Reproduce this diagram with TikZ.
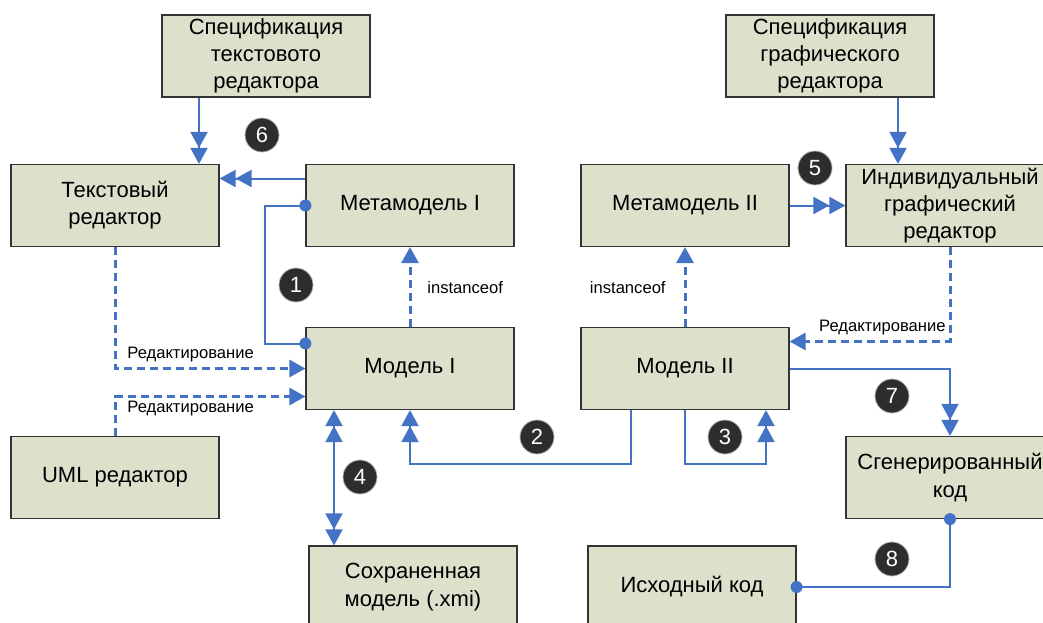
\documentclass[tikz,border=0pt]{standalone}
\usepackage{fontspec}
\setmainfont{Liberation Sans}
\usetikzlibrary{arrows.meta,calc}
\definecolor{boxfill}{RGB}{221,225,204}
\definecolor{linkblue}{RGB}{68,114,196}
\definecolor{badgefill}{RGB}{45,45,45}
\begin{document}
\begin{tikzpicture}[x=0.5pt,y=-0.5pt,
  >={Triangle[length=8pt,width=8.5pt]},
  block/.style={draw=black!80, line width=0.6pt, fill=boxfill,
    minimum width=104pt, minimum height=41pt, inner sep=1pt,
    align=center, font=\fontsize{11}{13.6}\selectfont},
  flow/.style={draw=linkblue, line width=1pt},
  edit/.style={draw=linkblue, line width=1.5pt, dash pattern=on 4pt off 2.5pt, ->},
  lbl/.style={inner sep=0pt, font=\fontsize{8.3}{10}\selectfont},
  badge/.style={circle, fill=badgefill, draw=gray!60, line width=0.4pt,
    minimum size=17pt, inner sep=0pt, text=white,
    font=\fontsize{11}{13}\selectfont},
  dot/.style={fill=linkblue}]

\useasboundingbox (0,0) rectangle (1043,622);
\clip (0,0) rectangle (1043,622);

% boxes
\node[block] (spt) at (266,56)    {Спецификация\\текстовото\\редактора};
\node[block] (spg) at (830,56)    {Спецификация\\графического\\редактора};
\node[block] (ted) at (115,205.5) {Текстовый\\редактор};
\node[block] (mm1) at (410,205.5) {Метамодель I};
\node[block] (mm2) at (685,205.5) {Метамодель II};
\node[block] (ind) at (950,205.5) {Индивидуальный\\графический\\редактор};
\node[block] (m1)  at (410,368.5) {Модель I};
\node[block] (m2)  at (685,368.5) {Модель II};
\node[block] (uml) at (115,477.5) {UML редактор};
\node[block] (gen) at (950,477.5) {Сгенерированный\\код};
\node[block] (sav) at (413,587)   {Сохраненная\\модель (.xmi)};
\node[block] (src) at (692,587)   {Исходный код};

% 6: specification and metamodel feed the text editor
\coordinate (s6) at ($(spt.south)+(-67,0)$);
\draw[flow,->>] (s6) -- (s6 |- ted.north);
\coordinate (s6b) at ($(mm1.west)+(0,-27)$);
\draw[flow,->>] (s6b) -- (s6b -| ted.east);

% 1: metamodel I -- model I
\coordinate (d1a) at (mm1.west);
\coordinate (d1b) at ($(m1.west)+(0,-25)$);
\draw[flow] (d1a) -- ++(-40,0) |- (d1b);
\fill[dot] (d1a) circle (3pt);
\fill[dot] (d1b) circle (3pt);

% instanceof
\draw[edit] (m1.north) -- (mm1.south);
\draw[edit] (m2.north) -- (mm2.south);
\node[lbl, anchor=west] (inst1) at (427,288) {instanceof};
\node[lbl, anchor=east] (inst2) at (666,288) {instanceof};

% editing links
\draw[edit] (ted.south) |- (m1.west);
\node[lbl, anchor=west] (ed1) at (127,355) {Редактирование};
\coordinate (e2) at ($(m1.west)+(0,28)$);
\draw[edit] (uml.north) |- (e2);
\node[lbl, anchor=west] (ed2) at (127,409) {Редактирование};
\coordinate (e3) at ($(m2.east)+(0,-27)$);
\draw[edit] (ind.south) |- (e3);
\node[lbl, anchor=east] (ed3) at (946,328) {Редактирование};

% 5: metamodel II and specification feed the graphical editor
\draw[flow,->>] (mm2.east) -- (ind.west);
\coordinate (s5) at ($(spg.south)+(68,0)$);
\draw[flow,->>] (s5) -- (s5 |- ind.north);

% 7: code generation
\draw[flow,->>] (m2.east) -| (gen.north);

% 2: model II -> model I
\coordinate (c2) at ($(m2.south)+(-54,0)$);
\draw[flow,->>] (c2) -- ++(0,54) -| (m1.south);

% 3: model II -> model II
\coordinate (c3) at ($(m2.south)+(81,0)$);
\draw[flow,->>] (m2.south) -- ++(0,54) -| (c3);

% 4: model I <-> saved model
\coordinate (c4) at ($(m1.south)+(-76,0)$);
\draw[flow,<<->>] (c4) -- (c4 |- sav.north);

% 8: generated code -- source code
\draw[flow] (gen.south) |- (src.east);
\fill[dot] (gen.south) circle (3pt);
\fill[dot] (src.east) circle (3pt);

% numbered badges
\node[badge] (b1) at (296,285) {1};
\node[badge] (b2) at (537,437) {2};
\node[badge] (b3) at (725,437) {3};
\node[badge] (b4) at (360,477) {4};
\node[badge] (b5) at (815,168) {5};
\node[badge] (b6) at (262,135) {6};
\node[badge] (b7) at (892,396) {7};
\node[badge] (b8) at (892,559) {8};
\end{tikzpicture}
\end{document}
